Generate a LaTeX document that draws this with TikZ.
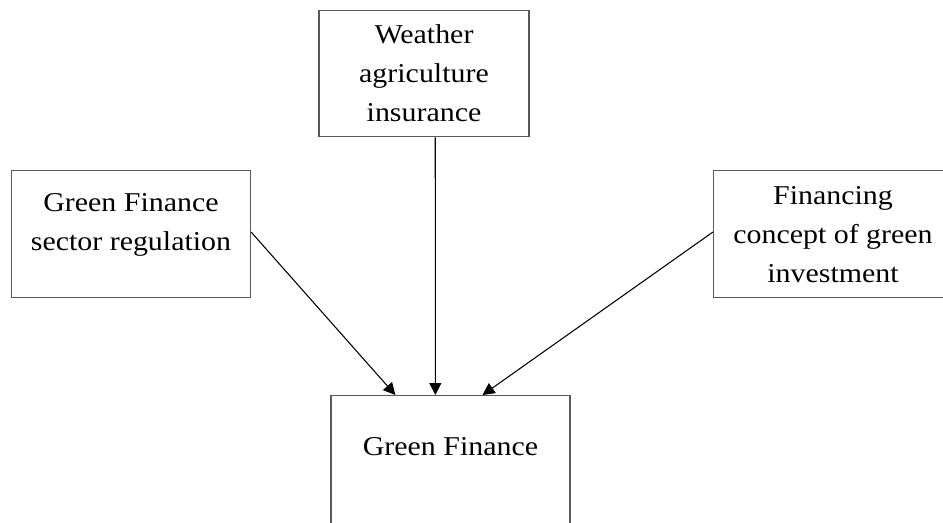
\documentclass[tikz,border=0pt]{standalone}
\usepackage{fontspec}
\setmainfont[FakeStretch=1.1]{Liberation Serif}
\usetikzlibrary{arrows.meta}

\tikzset{box/.style={rectangle, draw=black!65, line width=1pt, inner sep=0pt, align=center, anchor=north, minimum width=179.25pt, font=\fontsize{20.4pt}{29.25pt}\selectfont}}
\tikzset{arr/.style={-{Triangle[length=9pt,width=9pt]}, line width=0.8pt}}

\begin{document}
\begin{tikzpicture}[x=0.75pt,y=-0.75pt]
			\useasboundingbox (0,0) rectangle (943,522);
			\clip (0,0) rectangle (943,522);
			
			\node[box, minimum width=157.5pt, text height=83.6pt, text depth=11.25pt] (wai) at (424,9.5) {Weather\\agriculture\\insurance};
			\node[box, text height=60pt, text depth=35.25pt] (gfsr) at (131,170) {Green Finance\\sector regulation};
			\node[box, text height=84pt, text depth=11.25pt] (fcgi) at (833,170) {Financing\\concept of green\\investment};
			
			\node[box, text height=45pt, text depth=52.5pt] (gf) at (450.5,395) {Green Finance};
			
			\draw[arr] (gfsr.1) -- (gf.130);
			\draw[arr] (wai.-80) -- (gf.103);
			\draw[arr] (fcgi.179) -- (gf.64);
		\end{tikzpicture}
\end{document}
